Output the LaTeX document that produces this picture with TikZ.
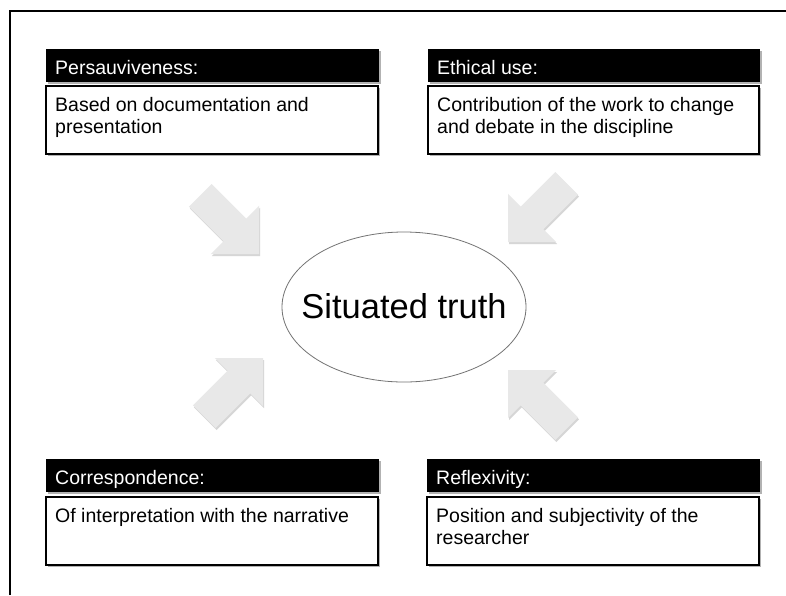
\documentclass[tikz,border=0pt]{standalone}
\usepackage{fontspec}
\setmainfont{Liberation Sans}
\usetikzlibrary{shapes.geometric}
\tikzset{
  hdrbox/.style={fill=black},
  bodybox/.style={draw=black, line width=1.5pt, fill=white},
  boxshadow/.style={fill=black!30},
  hdrtxt/.style={text=white, font=\fontsize{19.5}{22}\selectfont, inner sep=0pt, anchor=base west},
  bodytxt/.style={font=\fontsize{19.5}{22}\selectfont, inner sep=0pt, anchor=north west, align=left},
  arrowfill/.style={fill=black!9},
  arrowshadow/.style={fill=black!16},
  frameline/.style={line width=2.2pt, black},
  centershape/.style={ellipse, draw=black!55, line width=0.8pt, minimum width=244pt, minimum height=150pt, inner sep=0pt},
  centertxt/.style={inner sep=0pt, anchor=base, font=\fontsize{34.5}{40}\selectfont},
  barrow/.pic={
    \path[pic actions] (0,0) -- (-34,34) -- (-34,16) -- (-83,16) -- (-83,-16) -- (-34,-16) -- (-34,-34) -- cycle;
  }
}
\begin{document}
\begin{tikzpicture}[x=1pt,y=-1pt]
\useasboundingbox (0,0) rectangle (786,595);
\fill[white] (0,0) rectangle (786,595);
% outer frame (only top and left visible)
\draw[frameline] (10,595) -- (10,11) -- (786,11);

% arrows
\pic[arrowshadow, rotate=-45] (a1s) at (260,256) {barrow};
\pic[arrowfill, rotate=-45] (a1) at (259,254) {barrow};
\pic[arrowshadow, rotate=-135] (a2s) at (509,244) {barrow};
\pic[arrowfill, rotate=-135] (a2) at (508,242) {barrow};
\pic[arrowshadow, rotate=45] (a3s) at (264,360) {barrow};
\pic[arrowfill, rotate=45] (a3) at (263,358) {barrow};
\pic[arrowshadow, rotate=135] (a4s) at (509,372) {barrow};
\pic[arrowfill, rotate=135] (a4) at (508,370) {barrow};

% center
\node[centershape] (truth) at (404,307) {};
\node[centertxt] (truthtxt) at (404,318) {Situated truth};

% Persauviveness
\fill[boxshadow] (48,51) rectangle (381,84);
\fill[hdrbox] (46,49) rectangle (379,82);
\node[hdrtxt] (h1) at (55,74) {Persauviveness:};
\fill[boxshadow] (48,88) rectangle (380,156);
\draw[bodybox] (46,86) rectangle (378,154);
\node[bodytxt] (b1) at (55,97) {Based on documentation and\\presentation};

% Ethical use
\fill[boxshadow] (430,51) rectangle (762,84);
\fill[hdrbox] (428,49) rectangle (760,82);
\node[hdrtxt] (h2) at (437,74) {Ethical use:};
\fill[boxshadow] (430,88) rectangle (761,156);
\draw[bodybox] (428,86) rectangle (759,154);
\node[bodytxt] (b2) at (437,97) {Contribution of the work to change\\and debate in the discipline};

% Correspondence
\fill[boxshadow] (48,461) rectangle (381,494);
\fill[hdrbox] (46,459) rectangle (379,492);
\node[hdrtxt] (h3) at (55,484) {Correspondence:};
\fill[boxshadow] (48,499) rectangle (380,567);
\draw[bodybox] (46,497) rectangle (378,565);
\node[bodytxt] (b3) at (55,508) {Of interpretation with the narrative};

% Reflexivity
\fill[boxshadow] (429,461) rectangle (762,494);
\fill[hdrbox] (427,459) rectangle (760,492);
\node[hdrtxt] (h4) at (436,484) {Reflexivity:};
\fill[boxshadow] (429,499) rectangle (761,567);
\draw[bodybox] (427,497) rectangle (759,565);
\node[bodytxt] (b4) at (436,508) {Position and subjectivity of the\\researcher};
\end{tikzpicture}
\end{document}
